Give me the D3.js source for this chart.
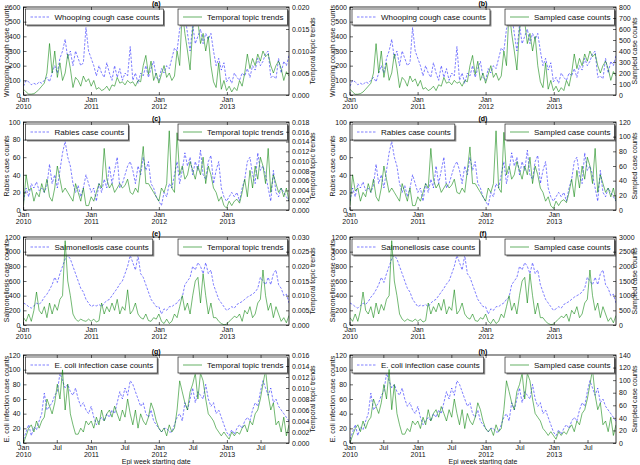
<!DOCTYPE html>
<html>
<head>
<meta charset="utf-8">
<script src="https://cdn.jsdelivr.net/npm/d3@7"></script>
<style>
body { margin: 0; background: #fff; }
text { font-family: "Liberation Sans", Arial, sans-serif; }
</style>
</head>
<body>
<svg id="fig" width="640" height="465"></svg>
<script>
// biweekly epi weeks, first one starts 2010-01-03
const startWeek = new Date(2010, 0, 3);

const whoopingCases = [
  60,100,90,70,80,70,90,80,100,120,90,150,200,150,250,300,380,250,300,200,300,250,200,220,460,300,
  250,200,130,200,150,120,220,150,100,200,120,180,100,150,130,330,100,150,80,150,130,200,120,180,230,120,
  100,180,150,200,180,250,320,300,450,500,550,420,300,480,350,400,450,350,420,380,420,300,200,250,170,220,
  90,120,80,150,120,100,150,130,180,120,200,170,250,200,230,280,300,120,130,110,250,150,230,200,270];
const whoopingTopic = [
  0.0013,0.0007,0.0002,0.0002,0.0003,0.0007,0.0013,0.002,0.0027,0.005,0.0117,0.005,0.01,0.004,0.0073,0.0033,0.005,0.0093,0.006,0.0017,0.004,0.0033,0.002,0.0043,0.003,0.0037,
  0.002,0.0033,0.0013,0.0017,0.001,0.0013,0.002,0.001,0.0023,0.002,0.004,0.0027,0.003,0.0023,0.0033,0.0027,0.003,0.002,0.0033,0.003,0.0067,0.009,0.0047,0.0077,0.0033,0.005,
  0.0027,0.0047,0.0067,0.004,0.005,0.0033,0.0043,0.01,0.0067,0.0193,0.014,0.01,0.0057,0.015,0.0173,0.0167,0.0117,0.014,0.01,0.0133,0.0067,0.003,0.0017,0.0073,0.0013,0.0033,
  0.001,0.002,0.0007,0.0017,0.001,0.0033,0.002,0.005,0.0093,0.006,0.0083,0.0067,0.0093,0.0077,0.01,0.0087,0.0093,0.0067,0.005,0.0067,0.0077,0.006,0.0033,0.0053,0.0043];
const whoopingSampled = [
  53,27,7,7,13,27,53,80,107,200,467,200,400,160,293,133,200,373,240,67,160,133,80,173,120,147,
  80,133,53,67,40,53,80,40,93,80,160,107,120,93,133,107,120,80,133,120,267,360,187,307,133,200,
  107,187,267,160,200,133,173,400,267,773,560,400,227,600,693,667,467,560,400,533,267,120,67,293,53,133,
  40,80,27,67,40,133,80,200,373,240,333,267,373,307,400,347,373,267,200,267,307,240,133,213,173];

const rabiesCases = [
  10,25,15,30,25,32,22,25,20,28,52,30,40,25,45,65,78,60,50,30,20,28,15,25,40,30,
  20,25,10,30,20,35,25,50,30,45,60,25,30,40,50,55,45,30,50,40,60,45,55,30,25,15,
  10,5,20,15,30,25,40,55,30,45,65,50,60,40,55,45,68,40,35,55,62,30,45,55,25,15,
  10,15,20,15,20,10,25,35,55,60,40,30,65,45,50,40,25,10,45,20,15,25,20,15,10];
const rabiesTopic = [
  0.0009,0.0072,0.004,0.0045,0.0018,0.0036,0.0027,0.0054,0.0036,0.0063,0.0027,0.0018,0.0045,0.009,0.0063,0.0036,0.0045,0.0036,0.0027,0.0018,0.0054,0.0036,0.0018,0.0045,0.0009,0.0009,
  0.0027,0.0018,0.0036,0.0054,0.0045,0.0126,0.0063,0.0045,0.0054,0.0036,0.0045,0.0054,0.0045,0.005,0.0063,0.0036,0.0032,0.0045,0.0036,0.0081,0.013,0.0054,0.0054,0.0045,0.0036,0.0027,
  0.0018,0.0045,0.0036,0.0054,0.0162,0.0045,0.0036,0.0158,0.0072,0.009,0.0063,0.0072,0.0099,0.0081,0.0063,0.009,0.0072,0.0108,0.0054,0.009,0.0072,0.0045,0.0036,0.0018,0.0027,0.0009,
  0.0004,0.0018,0.0009,0.0018,0.0022,0.0014,0.0036,0.0063,0.0027,0.0081,0.0045,0.009,0.0063,0.0108,0.009,0.0054,0.0126,0.0036,0.0072,0.0054,0.0036,0.0045,0.0027,0.0045,0.0018];
const rabiesSampled = [
  6,48,26,30,12,24,18,36,24,42,18,12,30,60,42,24,30,24,18,12,36,24,12,30,6,6,
  18,12,24,36,30,84,42,30,36,24,30,36,30,34,42,24,22,30,24,54,86,36,36,30,24,18,
  12,30,24,36,108,30,24,106,48,60,42,48,66,54,42,60,48,72,36,60,48,30,24,12,18,6,
  2,12,6,12,14,10,24,42,18,54,30,60,42,72,60,36,84,24,48,36,24,30,18,30,12];

const salmonellaCases = [
  300,280,250,230,260,300,280,320,380,420,480,550,650,580,700,800,900,950,900,800,700,600,500,450,350,300,
  250,270,260,280,250,300,330,350,400,450,500,560,600,700,800,950,850,750,950,700,650,550,450,350,300,250,
  250,150,220,200,250,250,280,300,350,380,550,600,650,800,750,850,800,700,850,700,750,550,450,350,300,250,
  200,220,250,230,280,300,320,350,380,400,420,450,500,650,600,550,650,550,700,750,550,500,400,420,300];
const salmonellaTopic = [
  0.0025,0.00125,0.00375,0.00125,0.005,0.01125,0.005,0.00375,0.00625,0.0025,0.0075,0.00375,0.007,0.005,0.00875,0.01,0.02875,0.015,0.01,0.00375,0.002,0.00125,0.002,0.0015,0.00125,0.002,
  0.00125,0.002,0.001,0.0015,0.0075,0.00375,0.00625,0.0045,0.0075,0.005,0.00875,0.00375,0.00625,0.005,0.012,0.00375,0.005,0.0075,0.00375,0.0025,0.002,0.00375,0.0015,0.00125,0.0025,0.002,
  0.00375,0.00125,0.0005,0.002,0.0005,0.00125,0.00375,0.0025,0.00625,0.01,0.005,0.0075,0.00375,0.01,0.015,0.01625,0.0075,0.0175,0.01,0.00375,0.0075,0.0025,0.0025,0.00125,0.0005,0.0001,
  0.00025,0.00125,0.002,0.003,0.0025,0.00375,0.00125,0.005,0.00375,0.00625,0.0025,0.00375,0.0075,0.00875,0.01875,0.01,0.005,0.0075,0.0025,0.00625,0.00375,0.00125,0.0025,0.00075,0.00325];
const salmonellaSampled = [
  250,125,375,125,500,1125,500,375,625,250,750,375,700,500,875,1000,2875,1500,1000,375,200,125,200,150,125,200,
  125,200,100,150,750,375,625,450,750,500,875,375,625,500,1200,375,500,750,375,250,200,375,150,125,250,200,
  375,125,50,200,50,125,375,250,625,1000,500,750,375,1000,1500,1625,750,1750,1000,375,750,250,250,125,50,13,
  25,125,200,300,250,375,125,500,375,625,250,375,750,875,1875,1000,500,750,250,625,375,125,250,75,325];

const ecoliCases = [
  5,15,25,10,22,18,30,40,68,45,50,55,65,70,95,85,75,80,70,65,75,60,50,55,45,40,
  50,35,25,30,35,30,40,35,45,40,55,70,60,75,65,85,80,70,60,50,55,40,35,45,30,25,
  20,15,20,20,15,15,25,35,40,30,55,45,60,75,55,70,65,60,80,60,50,55,40,45,35,25,
  15,10,18,12,20,25,20,30,35,30,45,55,50,70,85,75,65,75,55,60,50,45,40,35,30];
const ecoliTopic = [
  0,0.0013,0.0027,0.0033,0.002,0.004,0.0027,0.004,0.0047,0.008,0.0067,0.0053,0.0073,0.0107,0.008,0.0133,0.006,0.0107,0.0053,0.0033,0.0016,0.0016,0.0027,0.002,0.004,0.0033,
  0.004,0.0027,0.0047,0.0033,0.006,0.004,0.0053,0.006,0.0047,0.0067,0.0053,0.004,0.006,0.0047,0.008,0.0053,0.0033,0.006,0.0027,0.0053,0.004,0.0033,0.0047,0.0073,0.006,0.004,
  0.0027,0.002,0.0027,0.0013,0.0033,0.002,0.0027,0.006,0.0113,0.0093,0.0073,0.006,0.0093,0.0107,0.0127,0.008,0.0127,0.0113,0.008,0.0053,0.0047,0.004,0.0027,0.002,0.0013,0.002,
  0.0013,0.0007,0.002,0.0013,0.002,0.0016,0.0027,0.0033,0.002,0.004,0.0033,0.0053,0.006,0.008,0.0107,0.0133,0.0087,0.006,0.0073,0.0033,0.004,0.002,0.0047,0.0013,0.0033];
const ecoliSampled = [
  0,12,23,29,18,35,23,35,41,70,58,47,64,93,70,117,53,93,47,29,14,14,23,18,35,29,
  35,23,41,29,53,35,47,53,41,58,47,35,53,41,70,47,29,53,23,47,35,29,41,64,53,35,
  23,18,23,12,29,18,23,53,99,82,64,53,82,93,111,70,111,99,70,47,41,35,23,18,12,18,
  12,6,18,12,18,14,23,29,18,35,29,47,53,70,93,117,76,53,64,29,35,18,41,12,29];

const panelTitles = ["(a)", "(b)", "(c)", "(d)", "(e)", "(f)", "(g)", "(h)"];
const caseLabels = ["Whooping cough case counts", "Rabies case counts", "Salmonellosis case counts", "E. coli infection case counts"];
const caseAxisMax = [[600, 100], [100, 20], [1200, 200], [120, 20]];
const topicAxisMax = [[0.020, 0.005], [0.018, 0.002], [0.030, 0.005], [0.016, 0.002]];
const sampledAxisMax = [[800, 100], [120, 20], [3000, 500], [140, 20]];
const caseSeries = [whoopingCases, rabiesCases, salmonellaCases, ecoliCases];
const topicSeries = [whoopingTopic, rabiesTopic, salmonellaTopic, ecoliTopic];
const sampledSeries = [whoopingSampled, rabiesSampled, salmonellaSampled, ecoliSampled];

const dates = whoopingCases.map((d, i) => d3.timeWeek.offset(startWeek, 2 * i));

const svg = d3.select("#fig");
const colX = [[23.5, 289], [350, 616]];
const rightLabelX = [315, 637];
const rowY = [7, 122, 237, 355];
const ph = 88;
const blue = "#0000ff", green = "#008000";

function legend(g, xl, xr, y, label, color, dash) {
  let lg = g.append("g");
  let t = lg.append("text").attr("font-size", 8).attr("fill", "#111").text(label);
  let w = t.node().getComputedTextLength() + 33;
  let lx = xl != null ? xl : xr - w;
  lg.insert("rect", "text").attr("x", lx + 1.5).attr("y", y + 1.5).attr("width", w).attr("height", 16).attr("fill", "#888");
  lg.insert("rect", "text").attr("x", lx).attr("y", y).attr("width", w).attr("height", 16)
    .attr("fill", "#fff").attr("stroke", "#222").attr("stroke-width", 0.7);
  lg.append("line").attr("x1", lx + 5).attr("x2", lx + 24).attr("y1", y + 8).attr("y2", y + 8)
    .attr("stroke", color).attr("stroke-opacity", 0.5).attr("stroke-width", 1.2)
    .attr("stroke-dasharray", dash);
  t.attr("x", lx + 29).attr("y", y + 11);
}

for (let row = 0; row < 4; row++) {
  for (let col = 0; col < 2; col++) {
    let [x0, x1] = colX[col];
    let y0 = rowY[row], y1 = y0 + ph;
    let rightSeries = col === 0 ? topicSeries[row] : sampledSeries[row];
    let [rmax, rstep] = col === 0 ? topicAxisMax[row] : sampledAxisMax[row];
    let [lmax, lstep] = caseAxisMax[row];

    let x = d3.scaleTime().domain([dates[0], dates[dates.length - 1]]).range([x0, x1]);
    let yl = d3.scaleLinear().domain([0, lmax]).range([y1, y0]);
    let yr = d3.scaleLinear().domain([0, rmax]).range([y1, y0]);

    let g = svg.append("g");
    let cid = "clip" + row + col;
    g.append("clipPath").attr("id", cid).append("rect")
      .attr("x", x0).attr("y", y0).attr("width", x1 - x0).attr("height", ph);

    g.append("path").datum(caseSeries[row])
      .attr("clip-path", "url(#" + cid + ")")
      .attr("d", d3.line().x((d, i) => x(dates[i])).y(d => yl(d)))
      .attr("fill", "none").attr("stroke", blue).attr("stroke-opacity", 0.5)
      .attr("stroke-width", 1).attr("stroke-dasharray", "2.5,1.5");

    legend(g, x0 + 2, null, y0 + 2, caseLabels[row], blue, "2.5,1.5");

    g.append("path").datum(rightSeries)
      .attr("clip-path", "url(#" + cid + ")")
      .attr("d", d3.line().x((d, i) => x(dates[i])).y(d => yr(d)))
      .attr("fill", "none").attr("stroke", green).attr("stroke-opacity", 0.55)
      .attr("stroke-width", 1);

    legend(g, null, x1 - 1.5, y0 + 2, col === 0 ? "Temporal topic trends" : "Sampled case counts", green, null);

    g.append("rect").attr("x", x0).attr("y", y0).attr("width", x1 - x0).attr("height", ph)
      .attr("fill", "none").attr("stroke", "#000").attr("stroke-width", 0.8);

    // y axes
    g.append("g").attr("transform", "translate(" + x0 + ",0)")
      .call(d3.axisLeft(yl).tickValues(d3.range(0, lmax + lstep / 2, lstep)).tickSize(-3).tickPadding(3).tickFormat(d3.format("d")));
    g.append("g").attr("transform", "translate(" + x1 + ",0)")
      .call(d3.axisRight(yr).tickValues(d3.range(0, rmax + rstep / 2, rstep)).tickSize(-3).tickPadding(3)
        .tickFormat(col === 0 ? d3.format(".3f") : d3.format("d")));

    // x axes
    let xt = row === 3 ? d3.timeMonths(new Date(2010, 0, 1), new Date(2013, 11, 1), 6) : d3.timeYears(new Date(2010, 0, 1), new Date(2013, 11, 1));
    let ba = g.append("g").attr("transform", "translate(0," + y1 + ")")
      .call(d3.axisBottom(x).tickValues(xt).tickSize(-3).tickPadding(3).tickFormat(""));
    g.append("g").attr("transform", "translate(0," + y0 + ")")
      .call(d3.axisTop(x).tickValues(xt).tickSize(-3).tickFormat(""));
    ba.selectAll(".tick").each(function(d) {
      let t = d3.select(this).append("text").attr("fill", "#111").attr("text-anchor", "middle");
      t.append("tspan").attr("x", 0).attr("y", 6.5).text(d.getMonth() === 0 ? "Jan" : "Jul");
      if (d.getMonth() === 0) t.append("tspan").attr("x", 0).attr("y", 14).text(d.getFullYear());
    });

    g.selectAll(".domain").remove();
    g.selectAll(".tick line").attr("stroke", "#000").attr("stroke-width", 0.6);
    g.selectAll(".tick text").attr("fill", "#111");
    g.selectAll("g").attr("font-size", 7).attr("font-family", "Liberation Sans, Arial, sans-serif");

    g.append("text").attr("font-size", 7).attr("fill", "#111").attr("text-anchor", "middle")
      .attr("transform", "translate(" + (x0 - 15) + "," + (y0 + ph / 2) + ") rotate(-90)")
      .text(caseLabels[row]);
    g.append("text").attr("font-size", 7).attr("fill", "#111").attr("text-anchor", "middle")
      .attr("transform", "translate(" + rightLabelX[col] + "," + (y0 + ph / 2) + ") rotate(-90)")
      .text(col === 0 ? "Temporal topic trends" : "Sampled case counts");

    g.append("text").attr("font-size", 7).attr("font-weight", "bold").attr("text-anchor", "middle")
      .attr("x", (x0 + x1) / 2).attr("y", y0 - 1.5).text(panelTitles[row * 2 + col]);

    if (row === 3) {
      g.append("text").attr("font-size", 7).attr("fill", "#111").attr("text-anchor", "middle")
        .attr("x", (x0 + x1) / 2).attr("y", 463.5).text("Epi week starting date");
    }
  }
}
</script>
</body>
</html>
